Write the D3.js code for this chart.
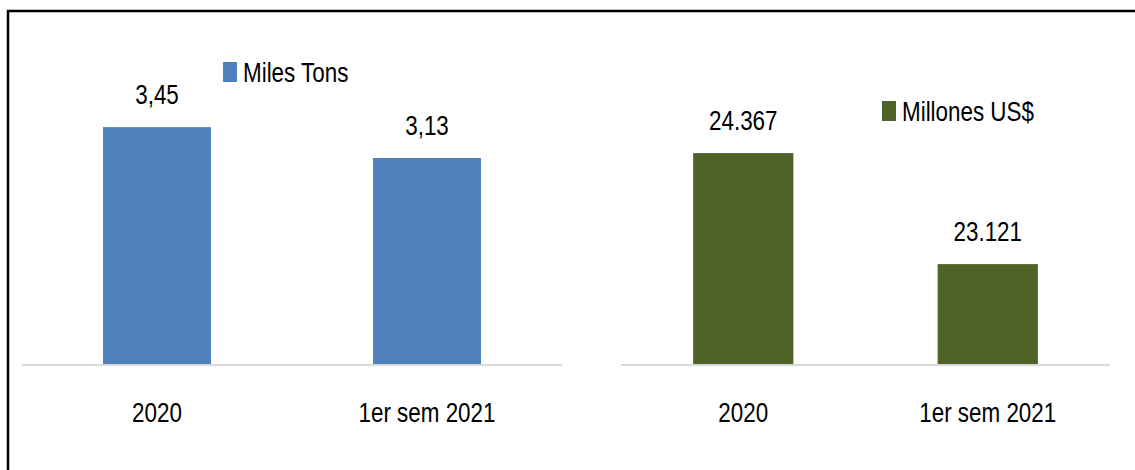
<!DOCTYPE html>
<html>
<head>
<meta charset="utf-8">
<script src="https://cdn.jsdelivr.net/npm/d3@7"></script>
<style>
  body { margin: 0; background: #fff; }
  svg text { font-family: "Liberation Sans", Arial, sans-serif; font-size: 27px; fill: #000; }
</style>
</head>
<body>
<div id="chart"></div>
<script>
// Datos
let categorias = ['2020', '1er sem 2021'];
let tonelajes = [3.45, 3.13];
let tonelajesLabels = ['3,45', '3,13'];
let millones = [24367, 23121];
let millonesLabels = ['24.367', '23.121'];
let leyendas = ['Miles Tons', 'Millones US$'];
let colores = ['#4f81bd', '#4f6228'];

let width = 1135, height = 470;
let narrow = 0.83; // estrechamos la fuente para parecerse a Calibri
let svg = d3.select('#chart').append('svg')
    .attr('width', width)
    .attr('height', height);

// Marco
svg.append('path')
    .attr('d', 'M8,470 L8,11 L1135,11')
    .attr('fill', 'none')
    .attr('stroke', '#000')
    .attr('stroke-width', 2.5);

let baseY = 364;

function place(x, y) {
    return 'translate(' + x + ',' + y + ') scale(' + narrow + ',1)';
}

function drawPanel(cfg) {
    let x = d3.scaleBand()
        .domain(categorias)
        .range([cfg.x0, cfg.x1])
        .paddingInner(cfg.pad)
        .paddingOuter(cfg.pad / 2);

    let y = d3.scaleLinear()
        .domain(cfg.domain)
        .range([baseY, baseY - cfg.pxRange]);

    let g = svg.append('g');

    g.selectAll('.bar')
        .data(cfg.values)
        .enter()
        .append('rect')
        .attr('class', 'bar')
        .attr('x', function(d, i) { return x(categorias[i]); })
        .attr('width', x.bandwidth())
        .attr('y', function(d) { return y(d); })
        .attr('height', function(d) { return baseY - y(d); })
        .attr('fill', cfg.color);

    // Eje
    g.append('line')
        .attr('x1', cfg.x0).attr('x2', cfg.x1)
        .attr('y1', baseY + 1).attr('y2', baseY + 1)
        .attr('stroke', '#d9d9d9')
        .attr('stroke-width', 2);

    g.selectAll('.valor')
        .data(cfg.values)
        .enter()
        .append('text')
        .attr('class', 'valor')
        .attr('transform', function(d, i) { return place(x(categorias[i]) + x.bandwidth() / 2, y(d) - 23); })
        .attr('text-anchor', 'middle')
        .text(function(d, i) { return cfg.labels[i]; });

    g.selectAll('.cat')
        .data(categorias)
        .enter()
        .append('text')
        .attr('class', 'cat')
        .attr('transform', function(d) { return place(x(d) + x.bandwidth() / 2, 422); })
        .attr('text-anchor', 'middle')
        .text(function(d) { return d; });

    // Leyenda
    g.append('rect')
        .attr('x', cfg.legX).attr('y', cfg.legY - 20)
        .attr('width', 14).attr('height', 20)
        .attr('fill', cfg.color);
    g.append('text')
        .attr('transform', place(cfg.legX + 20, cfg.legY))
        .text(cfg.legend);
}

drawPanel({
    x0: 22, x1: 562, pad: 0.6,
    domain: [1, 4], pxRange: 3 * 96.7,
    values: tonelajes, labels: tonelajesLabels,
    color: colores[0], legend: leyendas[0],
    legX: 223, legY: 82
});

drawPanel({
    x0: 621, x1: 1110, pad: 0.59,
    domain: [22000, 25000], pxRange: 3000 * 0.0891,
    values: millones, labels: millonesLabels,
    color: colores[1], legend: leyendas[1],
    legX: 882, legY: 121
});
</script>
</body>
</html>
